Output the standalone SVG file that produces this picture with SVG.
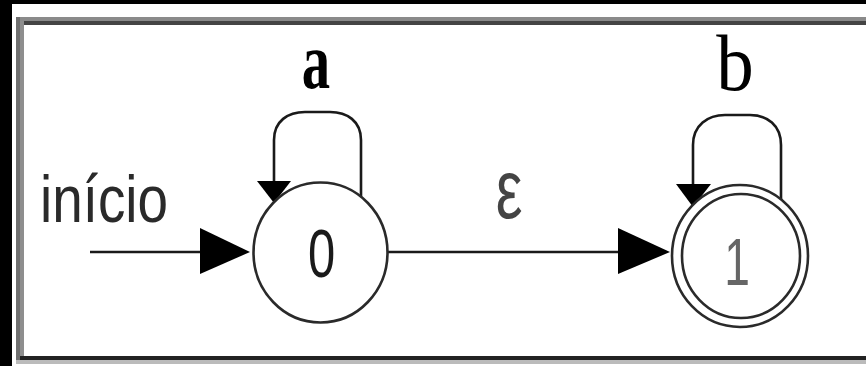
<svg xmlns="http://www.w3.org/2000/svg" width="866" height="366" viewBox="0 0 866 366">
<style>
.edge{fill:none;stroke:#1a1a1a;stroke-width:2.6}
.state{fill:#fff;stroke:#2a2a2a;stroke-width:2.6}
.head{fill:#000}
.lbl{font-family:"Liberation Sans",Arial,sans-serif;text-anchor:middle}
.sym{font-family:"Liberation Serif","Times New Roman",serif;text-anchor:middle;fill:#000}
</style>
<rect x="0" y="0" width="866" height="366" fill="#fff"/>
<rect x="0" y="0" width="866" height="4" fill="#000"/>
<rect x="0" y="0" width="12" height="366" fill="#000"/>
<g id="frame">
<rect x="16" y="17" width="850" height="4" fill="#8a8a8a"/>
<rect x="20" y="21" width="846" height="4" fill="#444"/>
<rect x="16" y="17" width="4" height="347" fill="#6e6e6e"/>
<rect x="20" y="21" width="4" height="335" fill="#8e8e8e"/>
<rect x="20" y="356" width="846" height="4" fill="#222"/>
<rect x="16" y="360" width="850" height="4" fill="#bbb"/>
</g>
<g id="connectors">
<g id="start-edge">
<line class="edge" x1="90" y1="252" x2="205" y2="252"/>
<polygon class="head" points="200,228 250,252 200,274"/>
<text class="lbl" x="0" y="0" font-size="66" fill="#2a2a2a" transform="translate(104,222)" textLength="128" lengthAdjust="spacingAndGlyphs">início</text>
</g>
<g id="edge-0-1">
<line class="edge" x1="388" y1="252" x2="625" y2="252"/>
<polygon class="head" points="618,228 670,252 618,274"/>
<text class="lbl" x="0" y="0" font-size="60" fill="#444" transform="translate(509,218) scale(1,1.4)">ε</text>
</g>
<g id="loop-0">
<path class="edge" d="M361,198 L361,140 C361,121 347,112 330,112 L305,112 C288,112 274,121 274,140 L274,186"/>
<polygon class="head" points="257,181 291,181 274,203"/>
<text class="sym" x="0" y="0" font-size="66" font-weight="bold" transform="translate(316,88) scale(0.86,1.22)">a</text>
</g>
<g id="loop-1">
<path class="edge" d="M781,200 L781,145 C781,125 767,115 750,115 L725,115 C708,115 693,125 693,145 L693,188"/>
<polygon class="head" points="676,184 711,184 693,207"/>
<text class="sym" x="0" y="0" font-size="75" transform="translate(735,90) scale(1,1.08)">b</text>
</g>
</g>
<g id="state-0">
<ellipse class="state" cx="320.5" cy="252.5" rx="67" ry="70"/>
<text class="lbl" x="0" y="0" font-size="68" fill="#1a1a1a" transform="translate(321.5,277) scale(0.72,1)">0</text>
</g>
<g id="state-1">
<ellipse class="state" cx="740" cy="256" rx="68" ry="71"/>
<ellipse class="state" cx="741" cy="256" rx="59" ry="62"/>
<text class="lbl" x="0" y="0" font-size="66" fill="#666" transform="translate(737,285) scale(0.7,1)">1</text>
</g>
</svg>
